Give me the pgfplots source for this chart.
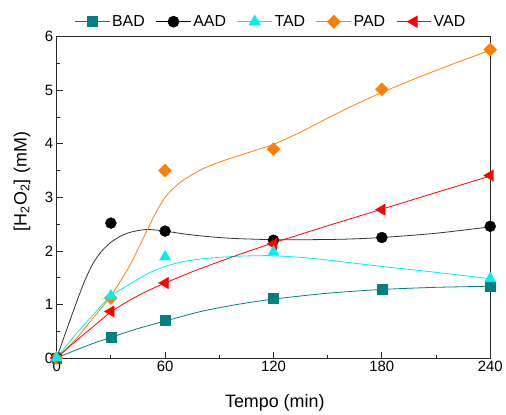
\documentclass[border=0pt]{standalone}
\usepackage{pgfplots}
\pgfplotsset{compat=1.18}
\usepackage{fontspec}
\setmainfont{Liberation Sans}

\definecolor{cBAD}{RGB}{0,128,128}
\definecolor{cAAD}{RGB}{0,0,0}
\definecolor{cTAD}{RGB}{0,240,240}
\definecolor{cPAD}{RGB}{255,128,0}
\definecolor{cVAD}{RGB}{255,0,0}
\definecolor{frame}{RGB}{40,40,40}

\begin{document}
\begin{tikzpicture}
\begin{axis}[
  name=ax,
  scale only axis,
  width=436pt, height=323pt,
  xmin=0, xmax=240, ymin=0, ymax=6,
  xtick={0,60,120,180,240},
  ytick={0,1,2,3,4,5,6},
  minor x tick num=1,
  minor y tick num=1,
  tick align=inside,
  tick pos=left,
  major tick length=6pt,
  minor tick length=3.5pt,
  axis line style={frame, line width=0.9pt},
  every tick/.style={frame, line width=0.8pt},
  /pgf/number format/assume math mode=true,
  ticklabel style={font=\fontsize{15}{18}\selectfont},
  label style={font=\fontsize{18}{21}\selectfont},
  xlabel={Tempo (min)},
  ylabel={[H\textsubscript{2}O\textsubscript{2}]\hspace{0.35em}(mM)},
  xlabel style={at={(axis description cs:0.503,0)}, anchor=base, yshift=-50pt},
  ylabel style={at={(axis description cs:-0.080,0.55)}, anchor=center},
  legend columns=5,
  legend style={
    at={(0.494,1.047)}, anchor=center, draw=none, fill=none,
    font=\fontsize{16}{19}\selectfont,
    /tikz/every even column/.append style={column sep=9pt},
    inner sep=0pt,
  },
  legend image code/.code={%
    \draw[mark repeat=2,mark phase=2,#1]
      plot coordinates {(0pt,0pt) (17.5pt,0pt) (35pt,0pt)};%
  },
  every axis plot/.append style={tension=0.45},
]

% fitted curves
\addplot[cBAD, line width=0.8pt, smooth, forget plot] coordinates {
 (0,0) (10,0.14) (20,0.27) (30,0.385) (45,0.55) (60,0.69) (80,0.87)
 (100,1.00) (120,1.10) (150,1.21) (180,1.28) (210,1.32) (240,1.34)};
\addplot[cAAD!80, line width=0.8pt, smooth, forget plot] coordinates {
 (0,0) (5,0.48) (10,0.95) (15,1.40) (20,1.76) (25,2.00) (30,2.16) (35,2.27)
 (40,2.34) (45,2.38) (50,2.40) (55,2.39) (60,2.37) (70,2.32) (80,2.28)
 (90,2.25) (100,2.23) (120,2.21) (140,2.21) (160,2.22) (180,2.25)
 (210,2.33) (240,2.45)};
\addplot[cTAD, line width=0.8pt, smooth, forget plot] coordinates {
 (0,0) (10,0.42) (20,0.80) (30,1.16) (40,1.37) (50,1.57) (60,1.71) (70,1.80)
 (80,1.85) (90,1.88) (100,1.90) (110,1.91) (120,1.91) (135,1.88)
 (150,1.83) (165,1.77) (180,1.71) (210,1.60) (240,1.48)};
\addplot[cPAD, line width=0.8pt, smooth, forget plot] coordinates {
 (0,0) (10,0.33) (20,0.74) (30,1.16) (40,1.70) (50,2.38) (55,2.72) (60,3.00)
 (65,3.18) (70,3.32) (80,3.52) (90,3.66) (100,3.77) (110,3.88) (120,3.99)
 (135,4.22) (150,4.48) (165,4.73) (180,4.96) (200,5.24) (220,5.50) (240,5.75)};
\addplot[cVAD, line width=0.8pt, smooth, forget plot] coordinates {
 (0,0) (10,0.30) (20,0.58) (30,0.86) (40,1.07) (50,1.25) (60,1.40) (75,1.61)
 (90,1.80) (105,1.98) (120,2.15) (150,2.47) (180,2.78) (210,3.09) (240,3.40)};

% measured values
\addplot[only marks, mark=square*, mark size=5pt, cBAD, forget plot] coordinates {
 (0,0) (30,0.38) (60,0.70) (120,1.12) (180,1.28) (240,1.34)};
\addplot[only marks, mark=*, mark size=5.5pt, cAAD, forget plot] coordinates {
 (0,0) (30,2.52) (60,2.37) (120,2.20) (180,2.25) (240,2.46)};
\addplot[only marks, mark=square*, mark size=4.6pt, mark options={rotate=45}, cPAD, forget plot] coordinates {
 (0,0) (30,1.12) (60,3.50) (120,3.90) (180,5.02) (240,5.76)};
\addplot[only marks, mark=triangle*, mark size=6.5pt, mark options={rotate=90}, cVAD, forget plot] coordinates {
 (0,0) (30,0.87) (60,1.40) (120,2.13) (180,2.77) (240,3.41)};
\addplot[only marks, mark=triangle*, mark size=6.5pt, cTAD, forget plot] coordinates {
 (0,0) (30,1.16) (60,1.89) (120,1.98) (240,1.48)};

% legend entries
\addlegendimage{cBAD, line width=0.8pt, mark=square*, mark size=5pt}
\addlegendentry{BAD}
\addlegendimage{cAAD, line width=0.8pt, mark=*, mark size=5.5pt}
\addlegendentry{AAD}
\addlegendimage{cTAD, line width=0.8pt, mark=triangle*, mark size=6.5pt}
\addlegendentry{TAD}
\addlegendimage{cPAD, line width=0.8pt, mark=square*, mark size=4.6pt, mark options={rotate=45}}
\addlegendentry{PAD}
\addlegendimage{cVAD, line width=0.8pt, mark=triangle*, mark size=6.5pt, mark options={rotate=90}}
\addlegendentry{VAD}
\end{axis}
\path[use as bounding box] ([xshift=-57pt,yshift=-52pt]ax.south west)
  rectangle ([xshift=13pt,yshift=37pt]ax.north east);
\end{tikzpicture}
\end{document}
